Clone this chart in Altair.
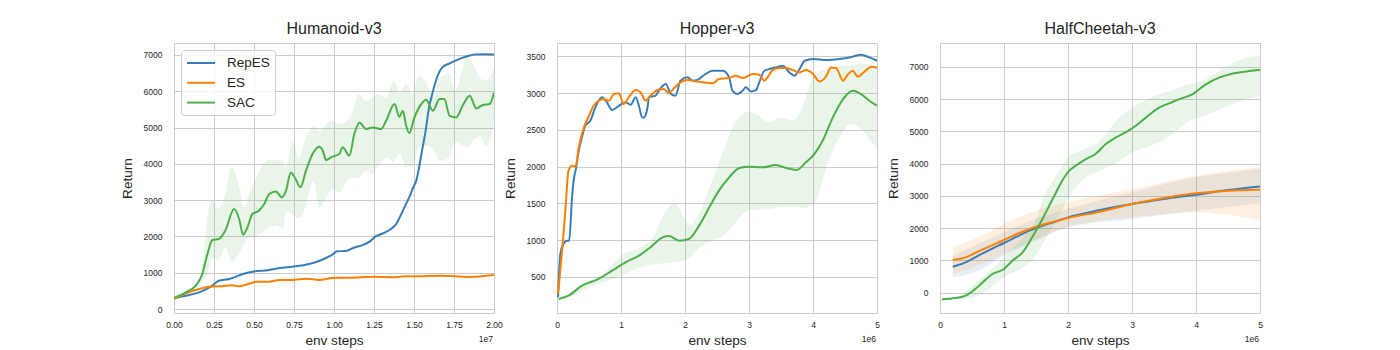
import altair as alt
import pandas as pd

SERIES = ["RepES", "ES", "SAC"]
COLORS = ["#377eb8", "#ff7f00", "#4daf4a"]
FONT = "Liberation Sans"

# ---------------- Humanoid-v3 (x in units of 1e7 env steps) ----------------
hum_repes_x = [0, .073, .157, .24, .28, .344, .43, .49, .595, .66, .74, .845, .91, .99, 1.02, 1.073,
               1.12, 1.177, 1.22, 1.26, 1.31, 1.36, 1.39, 1.41, 1.44, 1.47, 1.495, 1.514, 1.53, 1.55,
               1.573, 1.594, 1.61, 1.625, 1.65, 1.677, 1.72, 1.76, 1.80, 1.844, 1.88, 1.927, 2.0]
hum_repes_y = [303, 367, 459, 643, 780, 826, 964, 1028, 1074, 1130, 1166, 1240, 1331, 1500, 1590, 1600,
               1680, 1760, 1850, 2000, 2090, 2220, 2350, 2520, 2800, 3076, 3350, 3536, 3858, 4363,
               4914, 5556, 5850, 6108, 6450, 6659, 6760, 6844, 6920, 6981, 7010, 7020, 7015]
hum_es_x = [0, .073, .157, .22, .28, .365, .407, .45, .49, .51, .595, .66, .74, .825, .91, .99,
            1.117, 1.24, 1.37, 1.45, 1.53, 1.66, 1.74, 1.85, 2.0]
hum_es_y = [275, 432, 551, 615, 624, 652, 624, 670, 725, 753, 753, 799, 799, 836, 799, 854,
            863, 891, 872, 900, 900, 918, 909, 882, 937]
hum_sac_x = [0, .073, .136, .177, .209, .24, .28, .32, .376, .407, .432, .459, .49, .53, .564, .595,
             .637, .674, .70, .73, .76, .79, .825, .866, .908, .93, .95, .99, 1.033, 1.054, 1.096,
             1.127, 1.159, 1.2, 1.242, 1.294, 1.326, 1.378, 1.409, 1.43, 1.451, 1.47, 1.503, 1.545,
             1.576, 1.618, 1.66, 1.69, 1.722, 1.764, 1.806, 1.848, 1.89, 1.93, 1.973, 2.0]
hum_sac_y = [303, 459, 643, 964, 1515, 1901, 1928, 2158, 2755, 2479, 2048, 2250, 2617, 2709, 2893, 3168,
             3241, 3076, 3260, 3765, 3581, 3352, 3811, 4270, 4472, 4362, 4105, 4197, 4270, 4454, 4224,
             4821, 5142, 4959, 5005, 4959, 5188, 5647, 5298, 5464, 5050, 4848, 5280, 5647,
             5767, 5464, 5785, 5785, 5326, 5280, 5620, 5877, 5528, 5620, 5647, 5969]
hum_band_x = [0, .07, .14, .18, .21, .24, .28, .32, .36, .40, .44, .47, .51, .55, .60, .64, .68, .70,
              .74, .78, .82, .87, .91, .95, .99, 1.03, 1.10, 1.16, 1.20, 1.24, 1.28, 1.33, 1.37, 1.41,
              1.45, 1.49, 1.53, 1.58, 1.62, 1.66, 1.72, 1.76, 1.83, 1.87, 1.91, 1.95, 2.0]
hum_sac_hi = [303, 480, 720, 1300, 2600, 2990, 2750, 3150, 3930, 3500, 2800, 3200, 3580, 3950, 4130,
              4100, 4090, 3900, 4640, 4180, 4680, 5050, 4910, 5100, 5190, 5100, 5280, 5920, 5740, 5830,
              5920, 5830, 6290, 5970, 6200, 5920, 6430, 6240, 5830, 6380, 6470, 6020, 6930, 6750, 6380,
              6290, 6660]
hum_sac_lo = [303, 440, 600, 780, 1000, 1420, 1330, 1700, 1300, 1500, 1800, 1974, 1974, 2100, 2250,
              2300, 2200, 2709, 2600, 2500, 2800, 3535, 2800, 3076, 3300, 3200, 3600, 3627, 3800, 3719,
              3949, 4178, 4040, 4300, 3903, 3903, 4454, 4500, 4400, 4086, 4178, 4600, 4454, 4637, 4760,
              4500, 5100]

# ---------------- Hopper-v3 (x in units of 1e6 env steps) ----------------
hop_repes_x = [.016, .052, .10, .157, .19, .235, .26, .30, .34, .39, .44, .52, .60, .705, .78, .86, .97,
               1.07, 1.15, 1.23, 1.28, 1.33, 1.36, 1.41, 1.44, 1.54, 1.59, 1.70, 1.78, 1.85, 1.93, 2.04,
               2.12, 2.22, 2.32, 2.43, 2.59, 2.69, 2.74, 2.82, 2.90, 2.95, 3.03, 3.11, 3.16, 3.24, 3.32,
               3.42, 3.53, 3.63, 3.71, 3.79, 3.87, 4.0, 4.21, 4.41, 4.62, 4.75, 4.88, 5.0]
hop_repes_y = [224, 813, 949, 994, 994, 1583, 1810, 1991, 2218, 2399, 2557, 2625, 2807, 2943, 2875, 2770,
               2829, 2875, 2843, 2943, 2829, 2670, 2670, 2784, 2943, 2965, 3033, 3124, 2988, 2965, 3169,
               3215, 3169, 3192, 3260, 3305, 3305, 3215, 3033, 2988, 3033, 3079, 3024, 3042, 3147, 3305,
               3328, 3350, 3373, 3282, 3237, 3328, 3441, 3464, 3450, 3464, 3496, 3523, 3486, 3441]
hop_es_x = [.016, .08, .13, .18, .235, .29, .34, .42, .50, .57, .65, .73, .81, .89, .97, 1.04, 1.12,
            1.23, 1.31, 1.38, 1.46, 1.57, 1.67, 1.75, 1.83, 1.93, 2.06, 2.17, 2.27, 2.43, 2.53, 2.69,
            2.79, 2.90, 3.06, 3.16, 3.24, 3.29, 3.37, 3.48, 3.58, 3.68, 3.79, 3.89, 4.0, 4.10, 4.21,
            4.28, 4.36, 4.47, 4.55, 4.62, 4.70, 4.81, 4.91, 5.0]
hop_es_y = [269, 858, 1402, 1946, 2014, 2000, 2263, 2535, 2693, 2829, 2897, 2920, 2897, 2988, 2997, 2852,
            2943, 3042, 3010, 2897, 2965, 3042, 3056, 2997, 3070, 3147, 3179, 3160, 3147, 3133, 3192,
            3205, 3237, 3205, 3260, 3251, 3169, 3215, 3314, 3341, 3341, 3314, 3282, 3314, 3260, 3160,
            3237, 3350, 3341, 3169, 3260, 3305, 3224, 3296, 3359, 3350]
hop_sac_x = [.026, .18, .39, .65, .86, 1.07, 1.28, 1.46, 1.65, 1.75, 1.91, 2.06, 2.22, 2.38, 2.53, 2.69,
             2.85, 3.0, 3.21, 3.42, 3.58, 3.74, 3.89, 4.02, 4.15, 4.31, 4.47, 4.62, 4.75, 4.88, 5.0]
hop_sac_y = [201, 246, 382, 473, 586, 699, 790, 903, 1039, 1057, 994, 1017, 1198, 1447, 1674, 1855,
             1982, 2000, 1991, 2023, 1982, 1955, 2059, 2172, 2353, 2671, 2920, 3033, 2988, 2897, 2829]
hop_band_x = [.026, .25, .5, .75, 1.0, 1.25, 1.5, 1.7, 1.83, 1.98, 2.08, 2.2, 2.4, 2.6, 2.8, 3.0, 3.15,
              3.3, 3.5, 3.7, 3.85, 4.0, 4.1, 4.2, 4.4, 4.6, 4.75, 4.9, 5.0]
hop_sac_hi = [201, 300, 440, 560, 790, 880, 1040, 1400, 1500, 1320, 1210, 1330, 1760, 2217, 2625, 2748,
              2700, 2603, 2670, 2625, 2852, 3214, 3290, 3328, 3365, 3385, 3396, 3385, 3350]
hop_sac_lo = [201, 240, 360, 440, 518, 620, 670, 690, 705, 722, 760, 880, 990, 1060, 1250, 1411, 1415,
              1424, 1450, 1456, 1440, 1480, 1650, 1968, 2376, 2580, 2512, 2353, 2240]

# ---------------- HalfCheetah-v3 (x in units of 1e6 env steps) ----------------
hc_es_x = [.2, .4, .6, .8, 1.0, 1.2, 1.4, 1.6, 1.8, 2.0, 2.5, 3.0, 3.5, 4.0, 4.5, 5.0]
hc_repes_y = [805, 940, 1146, 1352, 1538, 1734, 1920, 2075, 2199, 2333, 2560, 2746, 2901, 3035, 3180, 3293]
hc_es_y = [1012, 1094, 1280, 1456, 1631, 1817, 1972, 2106, 2209, 2313, 2509, 2746, 2932, 3077, 3159, 3190]
hc_band_x = [.2, .6, 1.0, 1.5, 2.0, 3.0, 4.0, 5.0]
hc_repes_hi = [1146, 1507, 1869, 2282, 2591, 3108, 3572, 3830]
hc_repes_lo = [475, 681, 1146, 1610, 2024, 2282, 2540, 2767]
hc_es_hi = [1404, 1714, 2127, 2540, 2798, 3211, 3624, 3882]
hc_es_lo = [578, 836, 1198, 1662, 2024, 2333, 2488, 2230]
hc_sac_x = [.03, .24, .40, .61, .82, 1.0, 1.13, 1.29, 1.44, 1.60, 1.76, 1.91, 2.02, 2.12, 2.28, 2.43,
            2.59, 2.75, 2.90, 3.06, 3.22, 3.43, 3.58, 3.74, 3.95, 4.16, 4.37, 4.58, 4.79, 5.0]
hc_sac_y = [-206, -165, -93, 217, 578, 733, 991, 1249, 1714, 2282, 2901, 3469, 3779, 3934, 4140, 4295,
            4605, 4811, 4966, 5172, 5431, 5740, 5864, 5998, 6153, 6463, 6669, 6793, 6855, 6896]
hc_sac_band_x = [.03, .3, .6, 1.0, 1.3, 1.5, 1.6, 1.8, 2.0, 2.2, 2.5, 2.8, 3.0, 3.3, 3.6, 3.9, 4.1,
                 4.5, 4.8, 5.0]
hc_sac_hi = [-190, -80, 372, 1094, 1714, 2250, 2849, 3572, 4192, 4398, 4708, 5431, 5740, 6050, 6256,
             6463, 6566, 7031, 7289, 7340]
hc_sac_lo = [-220, -200, -100, 475, 785, 1150, 1500, 2200, 2900, 3450, 3780, 4080, 4347, 4553, 4862,
             5327, 5450, 5792, 5998, 6101]


def lines_df(items):
    rows = []
    for name, xs, ys in items:
        for x, y in zip(xs, ys):
            rows.append({"x": x, "y": y, "series": name})
    return pd.DataFrame(rows)


def bands_df(items):
    rows = []
    for name, xs, lo, hi in items:
        for x, a, b in zip(xs, lo, hi):
            rows.append({"bx": x, "lo": a, "hi": b, "band": name})
    return pd.DataFrame(rows)


W, H = 320, 270
# band fill scale listed in a different order so its (hidden) legend is not merged with the line legend
BAND_DOMAIN = SERIES[::-1]
BAND_RANGE = COLORS[::-1]


def panel(title, ldf, bdf, xdom, ydom, xticks, yticks, xfmt, offset_txt, show_legend):
    xs = alt.Scale(domain=xdom, nice=False, zero=False)
    ys = alt.Scale(domain=ydom, nice=False, zero=False)
    xax = alt.Axis(values=xticks, format=xfmt, title="env steps")
    yax = alt.Axis(values=yticks, format="d", title="Return")
    band = alt.Chart(bdf).mark_area(opacity=0.12, interpolate="monotone", clip=True).encode(
        x=alt.X("bx:Q", scale=xs, axis=xax),
        y=alt.Y("lo:Q", scale=ys, axis=yax),
        y2="hi:Q",
        fill=alt.Fill("band:N", scale=alt.Scale(domain=BAND_DOMAIN, range=BAND_RANGE), legend=None),
    )
    if show_legend:
        leg = alt.Legend(title=None, orient="top-left", offset=7, symbolType="M-1,0H3",
                         symbolSize=196, symbolStrokeWidth=2, labelFontSize=13.5, labelFont=FONT,
                         labelColor="#262626", padding=5, strokeColor="#cccccc",
                         fillColor="rgba(255,255,255,0.8)", cornerRadius=3, rowPadding=4.8,
                         labelOffset=25)
    else:
        leg = None
    line = alt.Chart(ldf).mark_line(strokeWidth=2, interpolate="monotone", clip=True).encode(
        x=alt.X("x:Q", scale=xs, axis=xax),
        y=alt.Y("y:Q", scale=ys, axis=yax),
        color=alt.Color("series:N", scale=alt.Scale(domain=SERIES, range=COLORS), legend=leg),
        order=alt.Order("x:Q"),
    )
    off = alt.Chart(pd.DataFrame({"t": [offset_txt]})).mark_text(
        align="right", baseline="middle", fontSize=8.5, font=FONT, color="#262626"
    ).encode(text="t:N", x=alt.value(W - 1), y=alt.value(H + 26))
    return alt.layer(band, line, off).properties(
        width=W, height=H, title=alt.TitleParams(title)
    )


p1 = panel(
    "Humanoid-v3",
    lines_df([("RepES", hum_repes_x, hum_repes_y), ("ES", hum_es_x, hum_es_y),
              ("SAC", hum_sac_x, hum_sac_y)]),
    bands_df([("SAC", hum_band_x, hum_sac_lo, hum_sac_hi)]),
    [0, 2], [-110, 7330], [0, .25, .5, .75, 1, 1.25, 1.5, 1.75, 2],
    list(range(0, 7001, 1000)), ".2f", "1e7", True,
)
p2 = panel(
    "Hopper-v3",
    lines_df([("RepES", hop_repes_x, hop_repes_y), ("ES", hop_es_x, hop_es_y),
              ("SAC", hop_sac_x, hop_sac_y)]),
    bands_df([("SAC", hop_band_x, hop_sac_lo, hop_sac_hi)]),
    [0, 5], [10, 3682], [0, 1, 2, 3, 4, 5],
    list(range(500, 3501, 500)), "d", "1e6", False,
)
p3 = panel(
    "HalfCheetah-v3",
    lines_df([("RepES", hc_es_x, hc_repes_y), ("ES", hc_es_x, hc_es_y),
              ("SAC", hc_sac_x, hc_sac_y)]),
    bands_df([("RepES", hc_band_x, hc_repes_lo, hc_repes_hi), ("ES", hc_band_x, hc_es_lo, hc_es_hi),
              ("SAC", hc_sac_band_x, hc_sac_lo, hc_sac_hi)]),
    [0, 5], [-630, 7735], [0, 1, 2, 3, 4, 5],
    list(range(0, 7001, 1000)), "d", "1e6", False,
)

chart = (
    alt.hconcat(p1, p2, p3, spacing=63, bounds="flush")
    .resolve_scale(color="independent", fill="independent")
    .resolve_legend(color="independent", fill="independent")
    .properties(padding={"left": 111, "top": 12, "right": 5, "bottom": 5}, background="white")
    .configure_view(stroke="#cccccc", strokeWidth=1)
    .configure_axis(grid=True, gridColor="#cccccc", gridWidth=1, domain=False, ticks=False,
                    labelFlush=False, labelFont=FONT, labelFontSize=8.5, labelColor="#262626",
                    titleFont=FONT, titleFontSize=13.6, titleFontWeight="normal",
                    titleColor="#262626")
    .configure_axisX(labelPadding=7, titlePadding=5)
    .configure_axisY(labelPadding=12, titlePadding=9)
    .configure_title(font=FONT, fontSize=16, fontWeight="normal", color="#262626", offset=6)
)

chart.save("out.html", embed_options={"renderer": "svg", "actions": False})
